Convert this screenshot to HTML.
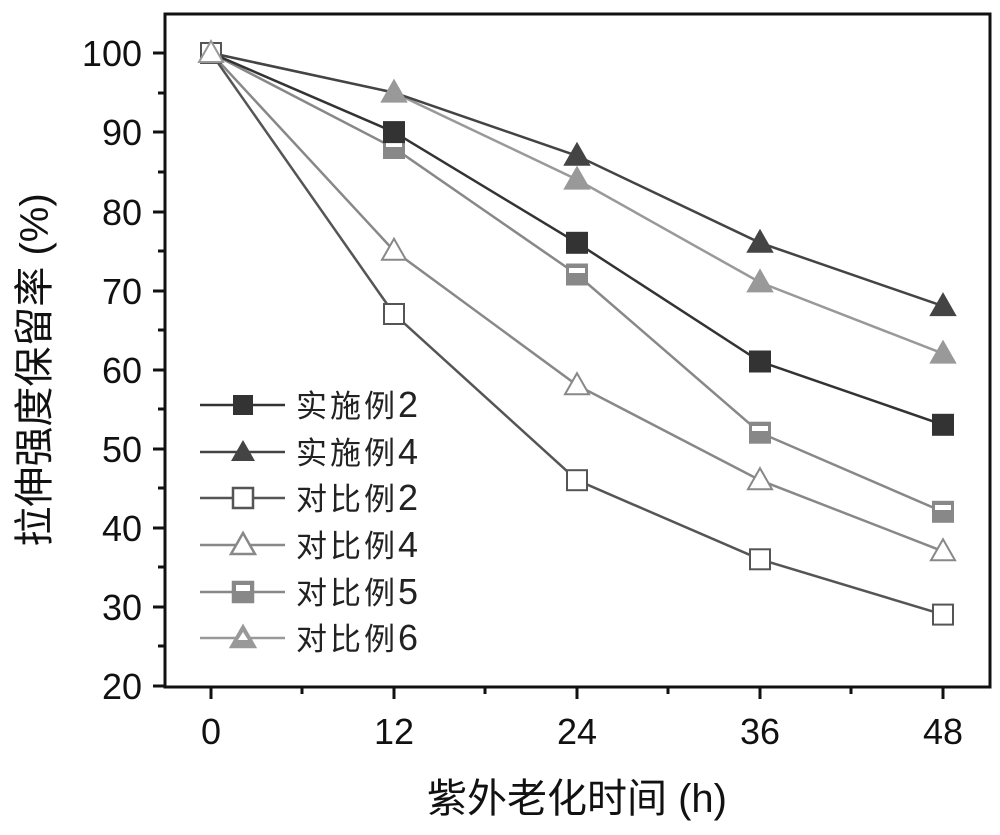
<!DOCTYPE html><html><head><meta charset="utf-8"><style>body{margin:0;background:#fff}svg{display:block}text{font-family:"Liberation Sans","Noto Sans CJK SC",sans-serif}</style></head><body>
<svg width="1000" height="835" viewBox="0 0 1000 835">
<rect x="165" y="14" width="825" height="673" fill="none" stroke="#111" stroke-width="3"/>
<g stroke="#111" stroke-width="3">
<line x1="153" y1="53" x2="165" y2="53"/><line x1="153" y1="132" x2="165" y2="132"/><line x1="153" y1="212" x2="165" y2="212"/><line x1="153" y1="291" x2="165" y2="291"/><line x1="153" y1="370" x2="165" y2="370"/><line x1="153" y1="449" x2="165" y2="449"/><line x1="153" y1="528" x2="165" y2="528"/><line x1="153" y1="607" x2="165" y2="607"/><line x1="153" y1="686" x2="165" y2="686"/>
<line x1="158" y1="93" x2="165" y2="93"/><line x1="158" y1="172" x2="165" y2="172"/><line x1="158" y1="251" x2="165" y2="251"/><line x1="158" y1="330" x2="165" y2="330"/><line x1="158" y1="409" x2="165" y2="409"/><line x1="158" y1="488" x2="165" y2="488"/><line x1="158" y1="567" x2="165" y2="567"/><line x1="158" y1="646" x2="165" y2="646"/>
<line x1="211" y1="687" x2="211" y2="699"/><line x1="394" y1="687" x2="394" y2="699"/><line x1="577" y1="687" x2="577" y2="699"/><line x1="760" y1="687" x2="760" y2="699"/><line x1="943" y1="687" x2="943" y2="699"/>
<line x1="302" y1="687" x2="302" y2="694"/><line x1="485" y1="687" x2="485" y2="694"/><line x1="668" y1="687" x2="668" y2="694"/><line x1="851" y1="687" x2="851" y2="694"/>
</g>
<g font-size="36" fill="#111" text-anchor="end">
<text x="142" y="66">100</text><text x="142" y="145">90</text><text x="142" y="225">80</text><text x="142" y="304">70</text><text x="142" y="383">60</text><text x="142" y="462">50</text><text x="142" y="541">40</text><text x="142" y="620">30</text><text x="142" y="699">20</text>
</g>
<g font-size="36" fill="#111" text-anchor="middle">
<text x="211" y="744">0</text><text x="394" y="744">12</text><text x="577" y="744">24</text><text x="760" y="744">36</text><text x="943" y="744">48</text>
<text x="577" y="812" font-size="40">紫外老化时间 (h)</text>
<text transform="translate(48,370) rotate(-90)" font-size="40">拉伸强度保留率 (%)</text>
</g>
<g fill="none" stroke-width="2.5">
<polyline stroke="#999" points="211,53 394,92.6 577,179.6 760,282.4 943,353.6"/>
<polyline stroke="#888" points="211,53 394,148 577,274.5 760,432.7 943,511.8"/>
<polyline stroke="#888" points="211,53 394,250.8 577,385.2 760,480.2 943,551.3"/>
<polyline stroke="#555" points="211,53 394,314 577,480.2 760,559.3 943,614.6"/>
<polyline stroke="#444" points="211,53 394,92.6 577,155.8 760,242.8 943,306.1"/>
<polyline stroke="#333" points="211,53 394,132.1 577,242.8 760,361.5 943,424.8"/>
</g>
<defs>
<g id="sq"><rect x="-10" y="-10" width="20" height="20"/></g>
<g id="tr"><polygon points="0,-12 12,9 -12,9"/></g>
</defs>
<g fill="#fff" stroke="#555" stroke-width="2">
<use href="#sq" x="211" y="53"/><use href="#sq" x="394" y="314"/><use href="#sq" x="577" y="480.2"/><use href="#sq" x="760" y="559.3"/><use href="#sq" x="943" y="614.6"/>
</g>
<g fill="#fff" stroke="#888" stroke-width="2">
<use href="#tr" x="394" y="250.8"/><use href="#tr" x="577" y="385.2"/><use href="#tr" x="760" y="480.2"/><use href="#tr" x="943" y="551.3"/>
</g>
<g fill="#888" stroke="#888" stroke-width="2">
<use href="#sq" x="394" y="148"/><use href="#sq" x="577" y="274.5"/><use href="#sq" x="760" y="432.7"/><use href="#sq" x="943" y="511.8"/>
</g>
<g fill="#fff"><rect x="386" y="142" width="16" height="5"/><rect x="569" y="268" width="16" height="5"/><rect x="752" y="426" width="16" height="5"/><rect x="935" y="505" width="16" height="5"/></g>
<g fill="#999" stroke="#999" stroke-width="2">
<use href="#tr" x="394" y="92.6"/><use href="#tr" x="577" y="179.6"/><use href="#tr" x="760" y="282.4"/><use href="#tr" x="943" y="353.6"/>
</g>
<g fill="#444" stroke="#444" stroke-width="2">
<use href="#tr" x="577" y="155.8"/><use href="#tr" x="760" y="242.8"/><use href="#tr" x="943" y="306.1"/>
</g>
<g fill="#333" stroke="#333" stroke-width="2">
<use href="#sq" x="394" y="132.1"/><use href="#sq" x="577" y="242.8"/><use href="#sq" x="760" y="361.5"/><use href="#sq" x="943" y="424.8"/>
</g>
<polygon points="211,41 223,62 199,62" fill="#fff" stroke="#999" stroke-width="2"/>
<g stroke-width="2.5">
<line x1="200" y1="405" x2="285" y2="405" stroke="#333"/><rect x="233" y="395" width="20" height="20" fill="#333"/>
<line x1="200" y1="452" x2="285" y2="452" stroke="#444"/><polygon points="243,440 255,461 231,461" fill="#444"/>
<line x1="200" y1="498" x2="285" y2="498" stroke="#555"/><rect x="233" y="488" width="20" height="20" fill="#fff" stroke="#555"/>
<line x1="200" y1="545" x2="285" y2="545" stroke="#888"/><polygon points="243,533 255,554 231,554" fill="#fff" stroke="#888"/>
<line x1="200" y1="592" x2="285" y2="592" stroke="#888"/><rect x="233" y="582" width="20" height="20" fill="#888" stroke="#888"/><rect x="236" y="585" width="14" height="6" fill="#fff"/>
<line x1="200" y1="638" x2="285" y2="638" stroke="#999"/><polygon points="243,626 255,647 231,647" fill="#999" stroke="#999"/><polygon points="243,632 248,640 238,640" fill="#fff"/>
</g>
<g font-size="31" fill="#222" letter-spacing="3">
<text x="296" y="417">实施例<tspan font-size="36" letter-spacing="0">2</tspan></text><text x="296" y="464">实施例<tspan font-size="36" letter-spacing="0">4</tspan></text><text x="296" y="510">对比例<tspan font-size="36" letter-spacing="0">2</tspan></text><text x="296" y="557">对比例<tspan font-size="36" letter-spacing="0">4</tspan></text><text x="296" y="604">对比例<tspan font-size="36" letter-spacing="0">5</tspan></text><text x="296" y="650">对比例<tspan font-size="36" letter-spacing="0">6</tspan></text>
</g>
</svg></body></html>
